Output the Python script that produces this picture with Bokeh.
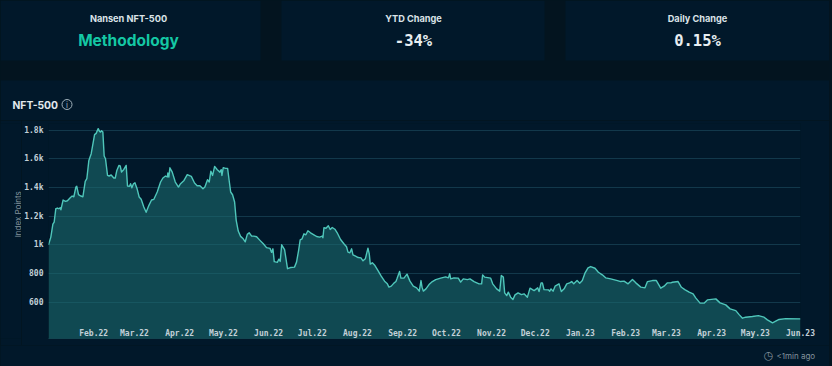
import math
import pandas as pd
from bokeh.core.properties import value
from bokeh.embed import file_html
from bokeh.layouts import column, row
from bokeh.models import FixedTicker, Grid, LinearAxis, Range1d
from bokeh.plotting import figure
from bokeh.resources import INLINE

# Index level: days since the first day of the series, and index points
start_date = "2022-01-01"
end_date = "2023-06-01"
days = [0,1.6,3,3.9,5,6.2,7.1,8,8.5,10,11.7,13,14.9,16.2,17.4,18.8,19.4,20.6,22.2,23.6,25.2,26.3,27.7,29.3,30.7,31.6,32.7,34.1,35,35.7,36.4,37.3,38.2,39.1,40.5,41.6,43,44.8,45.8,46.9,48.3,49.2,50.1,51.7,53.3,54.2,55.6,56.3,57.2,58.3,59.3,60.9,62.2,63.6,65.4,67,68.9,70.7,72.3,74.6,76.9,78.5,80.3,81.5,81.9,82.6,83.3,84.9,87,89.2,90.6,93,95.2,98,100.2,102,103.9,106,107.3,109.1,110.3,111.4,112.6,114,115.8,117.6,118.5,119,119.9,121.5,122.9,123.8,125,126.3,127.7,128.8,130.2,131.8,133.6,135,136.4,137.7,139.4,141,142.8,145.1,147.4,149.6,152,153.1,154,154.9,157,158.1,159,160,162,164,166,168.8,170.2,171.6,172.7,174,175.3,176.6,178,179.8,182.1,184,186,187.8,188.3,189,190.4,192,193.3,194.7,196.5,198.1,200.4,202.7,204.5,205.5,206.8,208,208.9,210.7,212.5,214.4,215.8,217.4,219.2,220.1,220.8,222.2,224,226,228.3,230.6,232.5,233.6,235.2,237,238.4,239.1,240.9,241.8,243.9,246,248,250.3,252.6,254.4,255.6,256.3,257.2,259,261.1,263.4,265.7,269.1,272.5,274.4,275.3,276,278.2,281.2,282.8,284.6,287.4,289.2,292,295.4,297.2,297.9,299.3,303.4,304.8,307.5,309.6,310.7,312.1,313,314.4,315.5,317.1,318.7,320.1,322.2,324.5,326.3,328.6,330.4,333.2,335.7,336.6,338,338.9,340,343,343.9,344.8,346.2,347.6,350.3,351.9,353.8,355.6,357.6,359,360.4,362.7,364.5,366.3,368.2,370.2,372,375,377.3,380,382.3,385.8,390.4,392.6,394.9,397.7,400.7,403,406.4,409.3,411,414.4,417.1,420.1,422.4,424.7,427,428.1,432,434.3,436.6,439.6,442.3,444.1,447.1,449.8,452.1,457.9,460.8,464.7,467.7,471.6,473.9,476.2,478.4,483,487.1,491,493.3,496.8,499,501.3,505.9,516]
index_points = [1000,1054,1145,1159,1252,1257,1252,1259,1245,1313,1304,1308,1329,1341,1336,1404,1409,1350,1341,1336,1444,1462,1590,1637,1718,1770,1779,1812,1793,1788,1798,1788,1621,1602,1485,1481,1488,1467,1467,1520,1555,1551,1509,1527,1555,1411,1409,1427,1399,1427,1434,1388,1334,1318,1264,1227,1276,1313,1318,1369,1439,1467,1481,1474,1502,1474,1539,1508,1439,1404,1427,1450,1490,1478,1432,1413,1413,1392,1404,1455,1439,1515,1485,1548,1525,1508,1525,1485,1539,1534,1534,1462,1369,1350,1299,1171,1096,1059,1042,1021,1073,1084,1061,1061,1056,1031,1007,980,975,947,972,882,877,900,884,1000,966,833,841,844,879,960,1035,1042,1077,1070,1098,1084,1070,1058,1054,1061,1049,1119,1116,1133,1107,1121,1109,1084,1037,1007,986,949,944,972,930,921,911,909,888,902,977,937,865,874,855,821,781,746,727,704,711,732,744,762,814,767,767,795,746,711,699,676,750,704,676,692,722,743,757,767,776,769,797,762,769,767,739,762,757,762,743,727,727,790,774,767,727,692,676,785,774,664,645,669,634,617,650,664,652,657,634,697,680,699,673,734,734,687,685,676,692,676,711,727,673,692,727,734,743,727,750,732,750,804,839,848,836,808,790,769,762,750,743,746,727,757,734,704,699,743,750,750,697,711,734,734,738,743,703,687,669,657,629,592,592,615,622,594,580,552,540,512,487,494,499,505,494,475,454,466,478,484,482]

month_ticks = ["2022-02-01","2022-03-01","2022-04-01","2022-05-01","2022-06-01","2022-07-01","2022-08-01","2022-09-01","2022-10-01","2022-11-01","2022-12-01","2023-01-01","2023-02-01","2023-03-01","2023-04-01","2023-05-01","2023-06-01"]
month_labels = ["Feb.22","Mar.22","Apr.22","May.22","Jun.22","Jul.22","Aug.22","Sep.22","Oct.22","Nov.22","Dec.22","Jan.23","Feb.23","Mar.23","Apr.23","May.23","Jun.23"]
y_ticks = [600,800,1000,1200,1400,1600,1800]
y_labels = ["600","800","1k","1.2k","1.4k","1.6k","1.8k"]

PAGE = "#03141f"
PANEL = "#01182a"
MONO = "DejaVu Sans Mono"
SANS = "Inter"
TICK = "#c3d0d8"
MUTED = "#83939d"

def ms(d):
    return pd.Timestamp(d).timestamp() * 1000

def strip(w, h, top, bottom, left=0, fill=PANEL):
    """A figure without axes whose plot area fills it; one unit is one pixel of the page."""
    f = figure(width=w, height=h, output_backend="svg", toolbar_location=None,
               x_range=Range1d(left, left + w), y_range=Range1d(bottom, top),
               x_axis_type=None, y_axis_type=None, min_border=0,
               border_fill_color=fill, background_fill_color=fill, outline_line_color=None)
    f.grid.visible = False
    return f

def text(f, x, y, s, size, color, font=SANS, style="normal", align="center", angle=0):
    f.text(x=[x], y=[y], text=[s], text_font=value(font), text_font_size=value(size), text_color=color,
           text_font_style=style, text_align=align, text_baseline="middle", angle=angle)

# header: three cards, the gap, and the chart title
head = strip(829, 120, 0, 120, fill=PAGE)
head.quad(left=[0, 281, 565, 0], right=[260, 544, 829, 829], top=[0, 0, 0, 80], bottom=[60, 60, 60, 120],
          fill_color=PANEL, line_alpha=0)
text(head, 128, 17.5, "Nansen NFT-500", "9.2px", "#dbe3e8", style="bold")
text(head, 128, 39.5, "Methodology", "15.5px", "#14c8a5", style="bold")
text(head, 413, 17.5, "YTD Change", "9.2px", "#dbe3e8", style="bold")
text(head, 413, 40, "-34%", "15.5px", "#e8eef1", font=MONO, style="bold")
text(head, 697, 17.5, "Daily Change", "9.2px", "#dbe3e8", style="bold")
text(head, 697, 40, "0.15%", "15.5px", "#e8eef1", font=MONO, style="bold")
text(head, 12, 104, "NFT-500", "10.3px", "#e2e8ec", style="bold", align="left")
head.scatter([66.5], [104], marker="circle", size=10, fill_alpha=0, line_color="#9fb0ba", line_width=1)
text(head, 66.5, 104, "i", "8px", "#9fb0ba")

# rotated axis title
side = strip(21, 225, 120, 345)
text(side, 17, 215, "Index Points", "8px", MUTED, angle=math.pi / 2)

# chart
start_ms = ms(start_date)
xs = [start_ms + d * 86400000 for d in days]
Y_MIN, Y_MAX = 345, 1848
p = figure(width=808, height=225, output_backend="svg", toolbar_location=None,
           x_range=Range1d(start_ms, ms(end_date)), y_range=Range1d(Y_MIN, Y_MAX),
           x_axis_type=None, y_axis_type=None,
           min_border_left=27, min_border_right=29, min_border_top=3, min_border_bottom=7,
           border_fill_color=PANEL, background_fill_color=PANEL, outline_line_color=None)

yax = LinearAxis(ticker=FixedTicker(ticks=y_ticks),
                 major_label_overrides=dict(zip(y_ticks, y_labels)),
                 axis_line_color=None, major_tick_line_color=None, minor_tick_line_color=None,
                 major_tick_out=0, major_tick_in=0, minor_tick_out=0, minor_tick_in=0,
                 major_label_text_font=MONO, major_label_text_font_size="8px", major_label_text_font_style="bold",
                 major_label_text_color=TICK, major_label_standoff=5)
p.add_layout(yax, "left")

tick_ms = [ms(d) for d in month_ticks]
xax = LinearAxis(ticker=FixedTicker(ticks=tick_ms),
                 major_label_overrides=dict(zip(tick_ms, month_labels)),
                 axis_line_color="#134651", major_tick_line_color=None, minor_tick_line_color=None,
                 major_tick_out=0, major_tick_in=0, minor_tick_out=0, minor_tick_in=0,
                 major_label_text_font=MONO, major_label_text_font_size="8px", major_label_text_font_style="bold",
                 major_label_text_color=TICK, major_label_standoff=-10)
p.add_layout(xax, "below")

p.add_layout(Grid(dimension=1, ticker=yax.ticker, grid_line_color="#12384b", grid_line_width=1))
p.varea(xs, y1=[Y_MIN] * len(xs), y2=index_points, fill_color="#1a6a6e", fill_alpha=0.6)
p.line(xs, index_points, line_color="#4fc6ba", line_width=1.4, line_join="round")

# footer
foot = strip(829, 21, 345, 366)
text(foot, 768, 355, "\u25f7", "11px", MUTED, font="DejaVu Sans")
text(foot, 776, 355.5, "<1min ago", "8px", MUTED, align="left")

page = column(head, row(side, p), foot)
css = "<style>html,body{margin:0;padding:0;background:%s;overflow:hidden}</style></head>" % PAGE
open("out.html", "w").write(file_html(page, INLINE).replace("</head>", css, 1))
